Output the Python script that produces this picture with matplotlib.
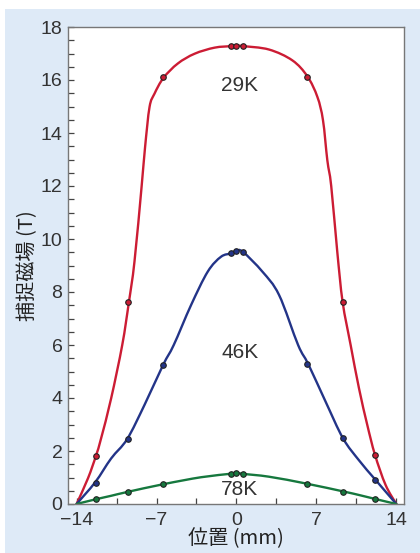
import matplotlib
matplotlib.use("Agg")
import matplotlib.pyplot as plt
import numpy as np
from matplotlib.patches import Rectangle, PathPatch
from matplotlib.path import Path
from matplotlib.ticker import MultipleLocator

# 測定点 (位置 mm)
marker_x = [-12.3, -9.5, -6.4, -0.5, 0.0, 0.55, 6.2, 9.35, 12.15]
red_pts = [1.83, 7.61, 16.1, 17.28, 17.3, 17.28, 16.13, 7.62, 1.86]
blue_pts = [0.81, 2.45, 5.25, 9.46, 9.56, 9.51, 5.27, 2.48, 0.92]
green_pts = [0.18, 0.45, 0.75, 1.14, 1.18, 1.14, 0.77, 0.47, 0.19]

# 曲線
red_cx = [-14, -13.0, -12.3, -11.85, -10.97, -10.0, -9.42, -8.93, -8.3, -8.0, -7.61,
          -7.18, -6.39, -5.14, -3.67, -1.92, -0.4, 0.0, 0.55, 2.85, 4.9, 6.21, 7.09,
          7.58, 7.96, 8.3, 8.83, 9.3, 10.0, 10.73, 11.46, 12.13, 13.06, 14]
red_cy = [0, 0.97, 1.82, 2.48, 3.99, 6.0, 7.61, 9.14, 12.0, 13.47, 14.98,
          15.48, 16.08, 16.62, 16.99, 17.22, 17.28, 17.3, 17.28, 17.15, 16.74, 16.14, 15.36,
          14.48, 12.97, 12.0, 9.52, 7.62, 6.0, 4.37, 2.98, 1.86, 0.72, 0]

blue_cx = [-14, -12.37, -10.97, -9.57, -8.05, -6.42, -5.49, -3.97, -2.51, -1.35, -0.45,
           0.0, 0.58, 2.27, 3.73, 5.4, 6.3, 7.81, 9.33, 10.73, 12.16, 14]
blue_cy = [0, 0.82, 1.72, 2.45, 3.74, 5.25, 6.0, 7.51, 8.77, 9.33, 9.46,
           9.56, 9.51, 8.77, 7.89, 6.0, 5.27, 3.86, 2.48, 1.65, 0.92, 0]

green_cx = [-14, -12.3, -10.97, -9.6, -6.37, -3.1, -0.53, -0.09, 0.52, 2.85, 6.12,
            9.4, 10.73, 12.15, 14]
green_cy = [0, 0.18, 0.31, 0.45, 0.75, 1.01, 1.14, 1.18, 1.14, 1.03, 0.77,
            0.47, 0.34, 0.19, 0]

curve_labels = ['29K', '46K', '78K']
label_pos = [(0.3, 15.8), (0.3, 5.7), (0.3, 0.55)]

colors = ['#cc1c34', '#233488', '#16783e']


def smooth_path(xs, ys):
    # Catmull-Rom 曲線を3次ベジェに変換して読み取り点を滑らかに通す
    p = np.column_stack([xs, ys]).astype(float)
    verts = [p[0]]
    codes = [Path.MOVETO]
    n = len(p)
    for i in range(n - 1):
        p0 = p[i - 1] if i > 0 else p[i]
        p1, p2 = p[i], p[i + 1]
        p3 = p[i + 2] if i + 2 < n else p[i + 1]
        verts += [p1 + (p2 - p0) / 6, p2 - (p3 - p1) / 6, p2]
        codes += [Path.CURVE4] * 3
    return Path(verts, codes)


plt.rcParams['font.family'] = ['Liberation Sans', 'DejaVu Sans']
cjk = ['Noto Sans CJK JP', 'DejaVu Sans']

fig = plt.figure(figsize=(4.2, 5.53), dpi=100, facecolor='white')
fig.patches.append(Rectangle((5 / 420, 0), 1 - 5 / 420, 1 - 9 / 553,
                             transform=fig.transFigure, facecolor='#deeaf7',
                             edgecolor='none', zorder=-5))
ax = fig.add_axes([68 / 420, 1 - 504 / 553, (404.3 - 68) / 420, (504 - 27) / 553])
ax.set_zorder(1)
ax.set_facecolor('white')

curves = [(red_cx, red_cy, red_pts), (blue_cx, blue_cy, blue_pts), (green_cx, green_cy, green_pts)]
for (cx, cy, pts), c in zip(curves, colors):
    ax.add_patch(PathPatch(smooth_path(cx, cy), facecolor='none', edgecolor=c,
                           lw=1.7, capstyle='round', zorder=2))
    ax.plot(marker_x, pts, 'o', color=c, ms=4.0, mec='#222222', mew=0.8, zorder=3)

for lab, (x, y) in zip(curve_labels, label_pos):
    ax.text(x, y, lab, ha='center', va='center', fontsize=15, color='#333333')

ax.set_xlim(-14.75, 14.7)
ax.set_ylim(0, 18)
ax.set_xticks([-14, -7, 0, 7, 14])
ax.xaxis.set_minor_locator(MultipleLocator(3.5))
ax.yaxis.set_major_locator(MultipleLocator(2))
ax.yaxis.set_minor_locator(MultipleLocator(0.5))
ax.tick_params(which='both', direction='in', length=4.5, width=0.9, color='#444444',
               top=False, right=False)
ax.tick_params(axis='x', which='major', labelsize=14, pad=6, labelcolor='#333333')
ax.tick_params(axis='y', which='major', labelsize=14, pad=4, labelcolor='#333333')
for s in ax.spines.values():
    s.set_color('#777777')
    s.set_linewidth(1.0)

ax.set_xlabel('位置 (mm)', family=cjk, fontsize=14.5, color='#222222', labelpad=-1)
ax.set_ylabel('捕捉磁場 (T)', family=cjk, fontsize=14.5, color='#222222', labelpad=2)

fig.savefig('out.png', dpi=100)
